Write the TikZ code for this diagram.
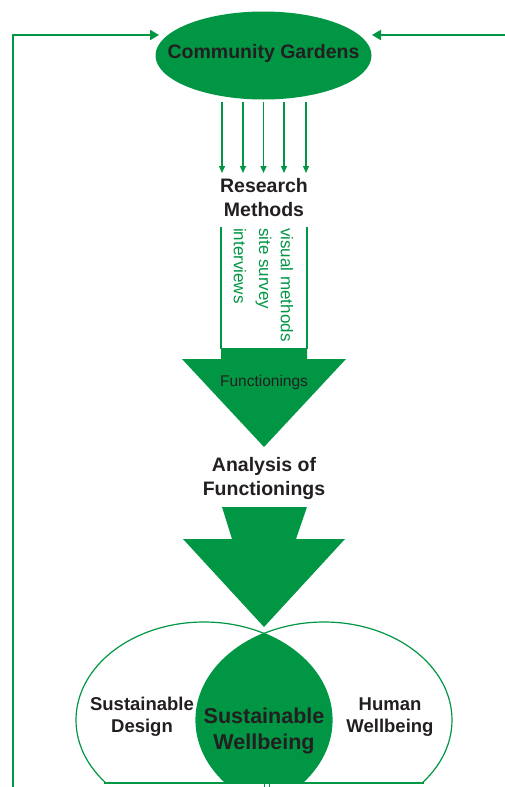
\documentclass[tikz,border=0pt]{standalone}
\usepackage{fontspec}
\setmainfont{Liberation Sans}
\usetikzlibrary{arrows.meta}
\definecolor{gr}{RGB}{0,150,68}
\definecolor{tx}{RGB}{35,31,32}
\tikzset{
  title/.style={font=\fontsize{19.5}{24}\selectfont\bfseries, text=tx, align=center, inner sep=0},
  vlabel/.style={font=\fontsize{17}{20}\selectfont, text=gr, rotate=-90, anchor=west, inner sep=0},
  thinarrow/.style={draw=gr, line width=1.3pt, -{Triangle[width=6pt,length=7pt]}},
  looparrow/.style={draw=gr, line width=2pt, -{Triangle[width=10pt,length=9pt]}},
  outline/.style={draw=gr, line width=1.2pt}
}
\begin{document}
\begin{tikzpicture}[x=1pt,y=-1pt]
\useasboundingbox (0,0) rectangle (505,787);

% Community Gardens
\fill[gr] (263.5,55.5) ellipse [x radius=108, y radius=44];
\node (cg) [font=\fontsize{19.5}{23}\selectfont\bfseries, text=tx, inner sep=0] at (263.5,53) {Community Gardens};

% feedback loops
\coordinate (lb) at (13,787);
\coordinate (lt) at (159,35);
\coordinate (rb) at (505,35);
\coordinate (rt) at (372,35);
\draw[looparrow] (lb) |- (lt);
\draw[looparrow] (rb) -- (rt);

% Research methods
\node (rm) [title] at (264,198) {Research\\Methods};
\foreach \x in {222,243,263.5,284,306}{
  \draw[thinarrow] (\x,102) -- (\x,173);
}

% big arrow 1
\fill[gr] (221,348) -- (307,348) -- (307,359) -- (346,359) -- (264,447) -- (182,359) -- (221,359) -- cycle;
\draw[outline] (221,227) -- (221,349);
\draw[outline] (307,227) -- (307,349);
\node (vm) [vlabel] at (287,228) {visual methods};
\node (ss) [vlabel] at (263.5,228) {site survey};
\node (iv) [vlabel] at (240,228) {interviews};
\node (fn) [font=\fontsize{15.5}{18}\selectfont, text=tx, inner sep=0] at (264,382) {Functionings};

% Analysis
\node (an) [title] at (264,478) {Analysis of\\Functionings};

% big arrow 2
\fill[gr] (222,507) -- (307,507) -- (296,539) -- (345,539) -- (264,627) -- (183,539) -- (232,539) -- cycle;

% Venn
\begin{scope}
  \clip (0,0) rectangle (505,783);
  \begin{scope}
    \clip (204,720) ellipse [x radius=128, y radius=98];
    \fill[gr] (324,720) ellipse [x radius=128, y radius=98];
  \end{scope}
  \draw[outline] (204,720) ellipse [x radius=128, y radius=98];
  \draw[outline] (324,720) ellipse [x radius=128, y radius=98];
\end{scope}
\draw[outline] (104,783) -- (424,783);
\draw[draw=gr, line width=1pt] (264,783) -- (264,787);
\draw[draw=gr, line width=1pt] (269,783) -- (269,787);

\node (sd) [title, font=\fontsize{18.5}{22}\selectfont\bfseries] at (142,717) {Sustainable\\Design};
\node (hw) [title, font=\fontsize{18.5}{22}\selectfont\bfseries] at (390,717) {Human\\Wellbeing};
\node (sw) [title, font=\fontsize{21.5}{26}\selectfont\bfseries] at (264,731) {Sustainable\\Wellbeing};
\end{tikzpicture}
\end{document}
